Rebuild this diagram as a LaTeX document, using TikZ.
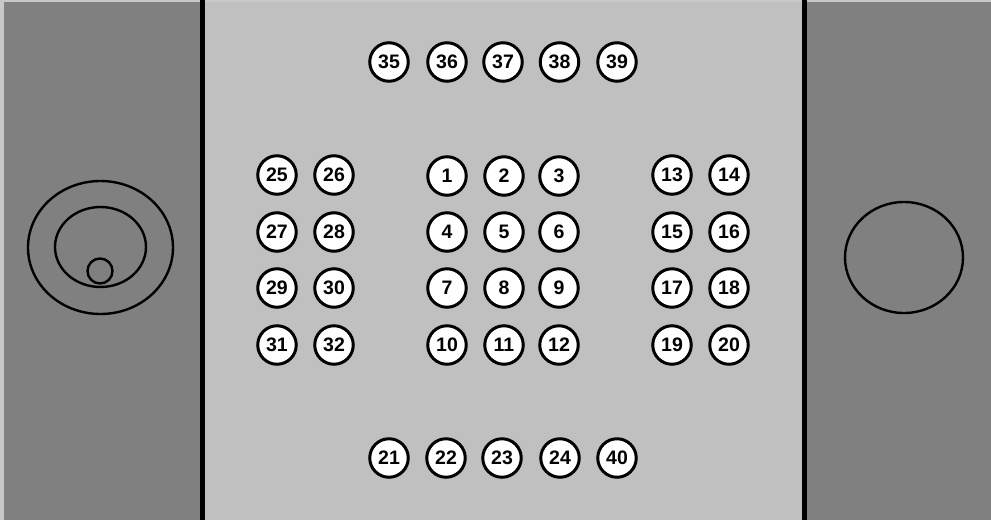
\documentclass[tikz,border=0pt]{standalone}
\usepackage{fontspec}
\setmainfont{Liberation Sans}
\begin{document}
\begin{tikzpicture}[x=1pt,y=-1pt,
  pin/.style={circle,draw=black,line width=3pt,fill=white,minimum size=38.5pt,inner sep=0pt,font=\fontsize{19.5}{19.5}\selectfont\bfseries},
  ring/.style={draw=black,line width=2.4pt}]
\definecolor{darkpanel}{HTML}{808080}
\definecolor{lightpanel}{HTML}{C0C0C0}
\definecolor{edge}{HTML}{C8C8C8}
\useasboundingbox (0,0) rectangle (991,520);
% panels
\fill[darkpanel] (0,0) rectangle (991,520);
\fill[lightpanel] (202.5,0) rectangle (804.5,520);
\fill[edge] (0,0) rectangle (4,520);
\fill[edge] (0,0) rectangle (991,1.5);
\fill[black] (200,0) rectangle (205,520);
\fill[black] (802,0) rectangle (807,520);
% left concentric shapes
\draw[ring] (100.5,247.5) ellipse [x radius=72.5, y radius=66.5];
\draw[ring] (100.5,247) ellipse [x radius=45.5, y radius=40];
\draw[ring] (100,271) circle [radius=12.5];
% right circle
\draw[ring] (904,257.5) ellipse [x radius=59, y radius=55.5];
% top row
\node[pin] (n35) at (389,62) {35};
\node[pin] (n36) at (447,62) {36};
\node[pin] (n37) at (503,62) {37};
\node[pin] (n38) at (559.5,62) {38};
\node[pin] (n39) at (617,62) {39};
% bottom row
\node[pin] (n21) at (389,458) {21};
\node[pin] (n22) at (446,458) {22};
\node[pin] (n23) at (502,458) {23};
\node[pin] (n24) at (560,458) {24};
\node[pin] (n40) at (617,458) {40};
% centre grid
\node[pin] (n1) at (447,176) {1};
\node[pin] (n2) at (504,176) {2};
\node[pin] (n3) at (559,176) {3};
\node[pin] (n4) at (447,232) {4};
\node[pin] (n5) at (504,232) {5};
\node[pin] (n6) at (559,232) {6};
\node[pin] (n7) at (447,288) {7};
\node[pin] (n8) at (504,288) {8};
\node[pin] (n9) at (559,288) {9};
\node[pin] (n10) at (447,345) {10};
\node[pin] (n11) at (504,345) {11};
\node[pin] (n12) at (559,345) {12};
% left grid
\node[pin] (n25) at (277,175) {25};
\node[pin] (n26) at (334,175) {26};
\node[pin] (n27) at (277,232) {27};
\node[pin] (n28) at (334,232) {28};
\node[pin] (n29) at (277,288) {29};
\node[pin] (n30) at (334,288) {30};
\node[pin] (n31) at (277,345) {31};
\node[pin] (n32) at (334,345) {32};
% right grid
\node[pin] (n13) at (672,175) {13};
\node[pin] (n14) at (729,175) {14};
\node[pin] (n15) at (672,232) {15};
\node[pin] (n16) at (729,232) {16};
\node[pin] (n17) at (672,288) {17};
\node[pin] (n18) at (729,288) {18};
\node[pin] (n19) at (672,345) {19};
\node[pin] (n20) at (729,345) {20};
\end{tikzpicture}
\end{document}
